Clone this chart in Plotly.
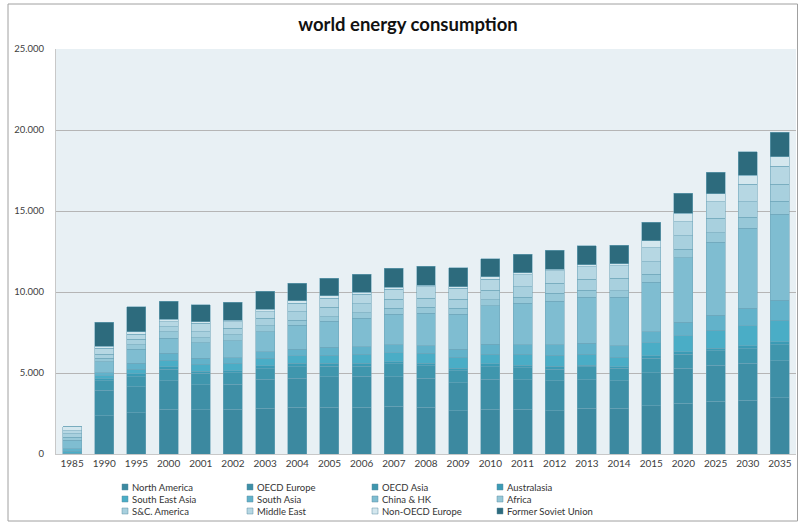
import plotly.graph_objects as go

years = ["1985", "1990", "1995", "2000", "2001", "2002", "2003", "2004", "2005", "2006",
         "2007", "2008", "2009", "2010", "2011", "2012", "2013", "2014", "2015", "2020",
         "2025", "2030", "2035"]

north_america = [0, 2350, 2550, 2760, 2720, 2760, 2820, 2880, 2880, 2880, 2960, 2880, 2670, 2760, 2760, 2670, 2820, 2820, 2980, 3130, 3270, 3330, 3480]
oecd_europe   = [0, 1600, 1600, 1770, 1540, 1540, 1790, 1790, 1890, 1930, 1810, 1790, 1730, 1850, 1810, 1860, 1750, 1710, 2040, 2160, 2220, 2270, 2280]
oecd_asia     = [0, 560, 620, 700, 720, 720, 660, 720, 660, 620, 790, 780, 740, 780, 740, 700, 820, 760, 890, 880, 870, 900, 970]
australasia   = [50, 120, 170, 160, 140, 120, 180, 210, 170, 170, 140, 150, 150, 170, 170, 200, 100, 100, 140, 150, 160, 190, 200]
south_east_asia = [110, 190, 290, 410, 420, 460, 460, 470, 510, 570, 550, 610, 680, 590, 690, 680, 680, 580, 820, 980, 1130, 1230, 1340]
south_asia    = [150, 200, 370, 410, 370, 350, 410, 410, 470, 450, 480, 480, 490, 620, 560, 620, 660, 720, 680, 830, 930, 1070, 1230]
china_hk      = [530, 680, 860, 930, 960, 1040, 1230, 1480, 1630, 1760, 1910, 1990, 2180, 2370, 2570, 2710, 2840, 2980, 3050, 3990, 4480, 4940, 5300]
africa        = [200, 200, 270, 410, 310, 360, 370, 310, 270, 340, 350, 370, 350, 370, 370, 480, 450, 410, 510, 520, 600, 670, 800]
sc_america    = [200, 270, 350, 310, 370, 410, 460, 510, 570, 540, 560, 560, 560, 610, 660, 620, 660, 760, 760, 820, 890, 970, 1050]
middle_east   = [210, 350, 310, 310, 520, 410, 400, 520, 560, 600, 620, 720, 680, 660, 720, 770, 780, 780, 870, 880, 1020, 1070, 1100]
non_oecd_europe = [220, 140, 160, 140, 100, 100, 170, 160, 160, 120, 120, 100, 100, 170, 150, 110, 110, 110, 410, 510, 480, 580, 600]
former_soviet = [0, 1460, 1540, 1130, 1030, 1090, 1110, 1080, 1070, 1130, 1170, 1170, 1170, 1090, 1130, 1170, 1170, 1150, 1170, 1240, 1340, 1440, 1500]

series = [
    ("North America", north_america, "#3c89a0"),
    ("OECD Europe", oecd_europe, "#3e8fa6"),
    ("OECD Asia", oecd_asia, "#3f96ad"),
    ("Australasia", australasia, "#3b9bb5"),
    ("South East Asia", south_east_asia, "#4aadc6"),
    ("South Asia", south_asia, "#62b2ca"),
    ("China & HK", china_hk, "#7fbdd1"),
    ("Africa", africa, "#97c8d8"),
    ("S&C. America", sc_america, "#a8d0de"),
    ("Middle East", middle_east, "#b6d7e3"),
    ("Non-OECD Europe", non_oecd_europe, "#d4e7ee"),
    ("Former Soviet Union", former_soviet, "#2d6b7d"),
]

fig = go.Figure()
for name, vals, col in series:
    fig.add_trace(go.Bar(
        x=years, y=vals, name=name, showlegend=False,
        marker=dict(color=col, line=dict(color="rgba(110,165,185,0.7)", width=0.8)),
    ))

W, H = 799, 525
L, R, T, B = 56, 3, 49, 71
pw, ph = W - L - R, H - T - B

def px_x(px):
    return (px - L) / pw

def px_y(py):
    return (H - B - py) / ph

# custom legend (4 columns x 3 rows)
col_x = [122, 247, 372, 497]
row_y = [487, 499, 511]
shapes = [dict(type="rect", xref="paper", yref="paper",
               x0=px_x(8), x1=px_x(797.5), y0=px_y(521), y1=px_y(4),
               line=dict(color="#a0a0a0", width=1), fillcolor="rgba(0,0,0,0)", layer="below")]
annotations = []
for i, (name, vals, col) in enumerate(series):
    cx = col_x[i % 4]
    cy = row_y[i // 4]
    shapes.append(dict(type="rect", xref="paper", yref="paper",
                       x0=px_x(cx), x1=px_x(cx + 6), y0=px_y(cy + 3), y1=px_y(cy - 3),
                       line=dict(color="rgba(90,140,160,0.8)", width=0.6), fillcolor=col))
    annotations.append(dict(text=name, xref="paper", yref="paper",
                            x=px_x(cx + 8), y=px_y(cy), xanchor="left", yanchor="middle",
                            showarrow=False, font=dict(size=9.5, color="#333333")))

fig.update_layout(
    width=W, height=H,
    barmode="stack",
    bargap=0.41,
    showlegend=False,
    margin=dict(l=L, r=R, t=T, b=B, pad=0, autoexpand=False),
    paper_bgcolor="white",
    plot_bgcolor="#e8f0f4",
    separators=",.",
    font=dict(family="Lato, Open Sans, sans-serif", size=10, color="#404040"),
    title=dict(text="<b>world energy consumption</b>", x=px_x(408), xanchor="center",
               xref="paper", y=1 - 25 / H, yanchor="middle",
               font=dict(family="Lato, Open Sans, sans-serif", size=18.5, color="#111111")),
    xaxis=dict(type="category", showgrid=False, showline=True, linecolor="#c8c8c8",
               ticks="", tickfont=dict(size=10, color="#404040"), automargin=False),
    yaxis=dict(range=[0, 25000], dtick=5000, tickformat=",d", showgrid=True,
               gridcolor="#b5b5b5", gridwidth=1, showline=True, linecolor="#c8c8c8",
               zeroline=False, ticks="", ticklabelstandoff=9, automargin=False,
               tickfont=dict(size=9.5, color="#404040")),
    shapes=shapes,
    annotations=annotations,
)

fig.write_html("out.html",
               config={"displayModeBar": False},
               post_script="document.body.style.margin='0';document.body.style.padding='0';"
                           "document.body.style.overflow='hidden';")
